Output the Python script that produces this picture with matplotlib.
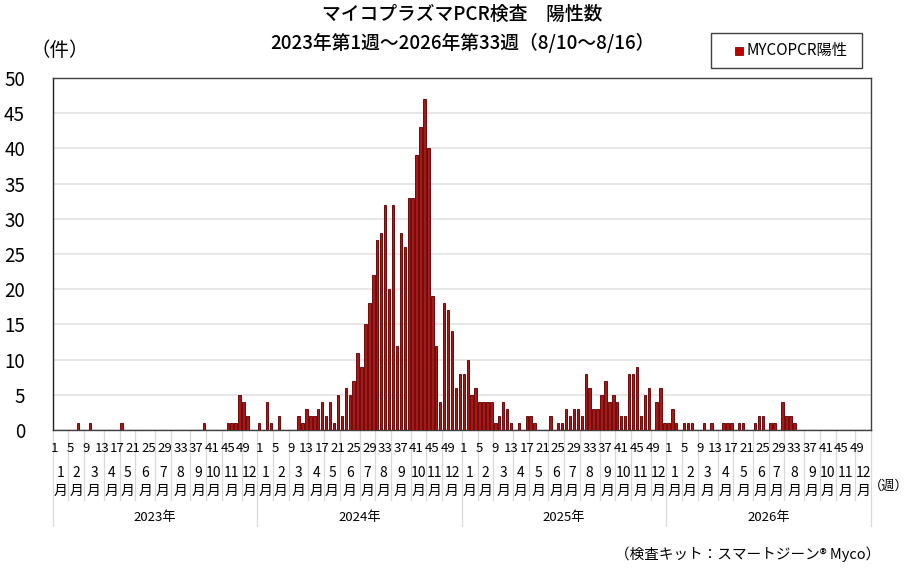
import matplotlib
matplotlib.use('Agg')
import matplotlib.pyplot as plt
from matplotlib.patches import Rectangle

plt.rcParams['font.family'] = ['Noto Sans CJK JP', 'DejaVu Sans']

# weekly positives per year (week 1..52)
y2023 = [0, 0, 0, 0, 0, 0, 1, 0, 0, 1, 0, 0, 0, 0, 0, 0, 0, 1, 0, 0,
         0, 0, 0, 0, 0, 0, 0, 0, 0, 0, 0, 0, 0, 0, 0, 0, 0, 0, 1, 0,
         0, 0, 0, 0, 1, 1, 1, 5, 4, 2, 0, 0]
y2024 = [1, 0, 4, 1, 0, 2, 0, 0, 0, 0, 2, 1, 3, 2, 2, 3, 4, 2, 4, 1,
         5, 2, 6, 5, 7, 11, 9, 15, 18, 22, 27, 28, 32, 20, 32, 12, 28, 26, 33, 33,
         39, 43, 47, 40, 19, 12, 4, 18, 17, 14, 6, 8]
y2025 = [8, 10, 5, 6, 4, 4, 4, 4, 1, 2, 4, 3, 1, 0, 1, 0, 2, 2, 1, 0,
         0, 0, 2, 0, 1, 1, 3, 2, 3, 3, 2, 8, 6, 3, 3, 5, 7, 4, 5, 4,
         2, 2, 8, 8, 9, 2, 5, 6, 0, 4, 6, 1]
y2026 = [1, 3, 1, 0, 1, 1, 1, 0, 0, 1, 0, 1, 0, 0, 1, 1, 1, 0, 1, 1,
         0, 0, 1, 2, 2, 0, 1, 1, 0, 4, 2, 2, 1]

years = ['2023年', '2024年', '2025年', '2026年']
weeks_per_year = 52
# number of weeks in each month, per year
month_weeks = [
    [4, 4, 5, 4, 4, 5, 4, 5, 4, 4, 5, 4],
    [4, 4, 5, 4, 4, 5, 4, 4, 5, 4, 4, 5],
    [4, 4, 5, 4, 5, 4, 4, 5, 4, 4, 5, 4],
    [4, 4, 5, 4, 5, 4, 4, 5, 4, 4, 5, 4],
]
week_labels = list(range(1, 53, 4))

values = y2023 + y2024 + y2025 + y2026
n_total = weeks_per_year * len(years)

W, H = 912, 569
fig = plt.figure(figsize=(W / 100, H / 100), dpi=100)
ax_l, ax_r, ax_t, ax_b = 52.7, 871, 78, 430
ax = fig.add_axes([ax_l / W, 1 - ax_b / H, (ax_r - ax_l) / W, (ax_b - ax_t) / H])

ax.bar(range(len(values)), values, width=0.62, color='#A81818',
       edgecolor='#6E0A0A', linewidth=0.7, zorder=3)

ax.set_xlim(-0.5, n_total - 0.5)
ax.set_ylim(0, 50)
ax.set_yticks(range(0, 51, 5))
ax.tick_params(axis='y', length=0, pad=20, labelsize=13.5)
ax.set_xticks([])
ax.grid(axis='y', color='#E3E3E3', linewidth=1.2, zorder=0)
for s in ax.spines.values():
    s.set_color('#404040')
    s.set_linewidth(1.0)
ax.spines['left'].set_color('#202020')

# multi-level category axis
tr = ax.get_xaxis_transform()
axh = ax_b - ax_t
def yf(py):
    return (ax_b - py) / axh

sep_col = '#D9D9D9'
for yi, yr in enumerate(years):
    start = yi * weeks_per_year
    for wl in week_labels:
        ax.text(start + wl - 1, yf(448), str(wl), transform=tr, ha='center',
                va='center', fontsize=9.5, clip_on=False)
    pos = start
    for mi, nw in enumerate(month_weeks[yi]):
        c = pos + nw / 2 - 0.5
        ax.text(c, yf(473), str(mi + 1), transform=tr, ha='center',
                va='center', fontsize=10, clip_on=False)
        ax.text(c, yf(491), '月', transform=tr, ha='center',
                va='center', fontsize=10, clip_on=False)
        if mi > 0:
            ax.plot([pos - 0.5, pos - 0.5], [0, yf(500)], transform=tr,
                    color=sep_col, linewidth=0.9, clip_on=False)
        pos += nw
    ax.text(start + weeks_per_year / 2 - 0.5, yf(517), yr, transform=tr,
            ha='center', va='center', fontsize=9.5, clip_on=False)
for yi in range(len(years) + 1):
    x = yi * weeks_per_year - 0.5
    ax.plot([x, x], [0, yf(526)], transform=tr, color=sep_col,
            linewidth=0.9, clip_on=False)

# titles and labels
fig.text(462 / W, 1 - 14 / H, 'マイコプラズマPCR検査　陽性数', ha='center',
         va='center', fontsize=13.5, fontweight='medium')
fig.text(462 / W, 1 - 43 / H, '2023年第1週～2026年第33週（8/10～8/16）',
         ha='center', va='center', fontsize=13.5, fontweight='medium')
fig.text(60 / W, 1 - 50 / H, '（件）', ha='center', va='center', fontsize=14)
fig.text(909 / W, 1 - 486 / H, '（週）', ha='right', va='center', fontsize=9.5)
fig.text(880 / W, 1 - 554 / H, '（検査キット：スマートジーン® Myco）',
         ha='right', va='center', fontsize=10.5)

# legend box
fig.patches.append(Rectangle((711 / W, 1 - 68 / H), 151 / W, 35 / H,
                             transform=fig.transFigure, fill=False,
                             edgecolor='#404040', linewidth=1.0))
fig.patches.append(Rectangle((735 / W, 1 - 55 / H), 8 / W, 8 / H,
                             transform=fig.transFigure, facecolor='#C00000',
                             edgecolor='#7A0A0A', linewidth=0.6))
fig.text(747 / W, 1 - 51 / H, 'MYCOPCR陽性', ha='left', va='center', fontsize=11)

fig.savefig('out.png', dpi=100)
